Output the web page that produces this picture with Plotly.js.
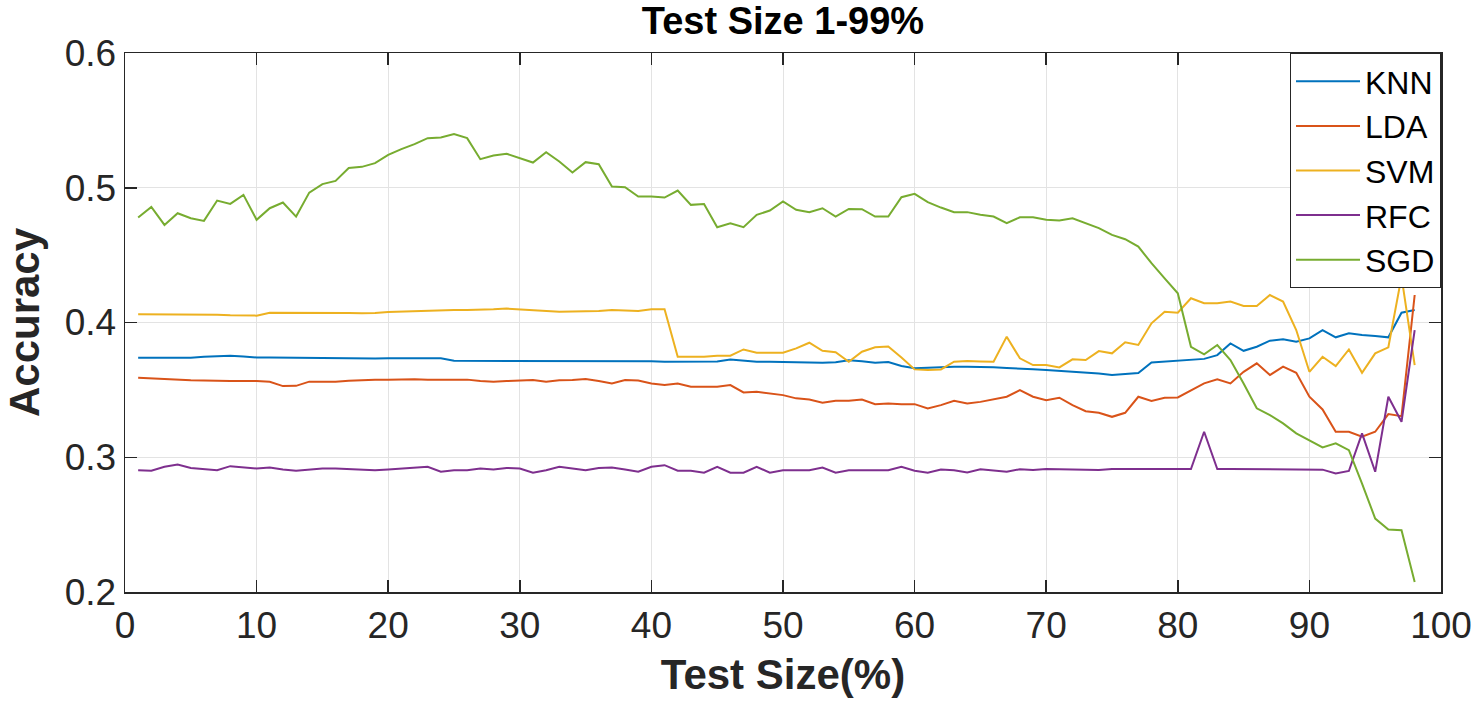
<!DOCTYPE html>
<html>
<head>
<meta charset="utf-8">
<script src="https://cdn.plot.ly/plotly-3.0.1.min.js"></script>
<style>html,body{margin:0;padding:0;background:#fff;}#chart{width:1479px;height:704px;}</style>
</head>
<body>
<div id="chart"></div>
<script>
const testSize = Array.from({length: 98}, (_, i) => i + 1);

const knn = [0.3739,0.3739,0.3739,0.3739,0.3739,0.3745,0.3751,0.3753,0.3748,0.3740,0.3740,0.3739,0.3739,0.3736,0.3736,0.3733,0.3731,0.3732,0.3733,0.3735,0.3735,0.3735,0.3735,0.3735,0.3716,0.3716,0.3715,0.3714,0.3713,0.3713,0.3712,0.3712,0.3711,0.3713,0.3713,0.3713,0.3713,0.3713,0.3713,0.3713,0.3708,0.3710,0.3710,0.3710,0.3711,0.3726,0.3716,0.3708,0.3708,0.3706,0.3704,0.3703,0.3701,0.3705,0.3720,0.3712,0.3701,0.3706,0.3677,0.3660,0.3665,0.3672,0.3672,0.3672,0.3672,0.3668,0.3662,0.3659,0.3653,0.3647,0.3641,0.3635,0.3629,0.3622,0.3610,0.3615,0.3625,0.3704,0.3710,0.3717,0.3727,0.3730,0.3758,0.3845,0.3790,0.3820,0.3865,0.3875,0.3857,0.3882,0.3944,0.3890,0.3920,0.3907,0.3900,0.3890,0.4073,0.4093];

const lda = [0.3590,0.3585,0.3578,0.3575,0.3572,0.3570,0.3566,0.3566,0.3566,0.3566,0.3560,0.3528,0.3530,0.3561,0.3561,0.3561,0.3568,0.3574,0.3576,0.3576,0.3578,0.3578,0.3576,0.3576,0.3576,0.3576,0.3566,0.3561,0.3565,0.3569,0.3574,0.3561,0.3571,0.3573,0.3581,0.3566,0.3548,0.3573,0.3569,0.3548,0.3536,0.3548,0.3523,0.3523,0.3523,0.3536,0.3481,0.3486,0.3474,0.3461,0.3437,0.3429,0.3404,0.3419,0.3419,0.3429,0.3394,0.3399,0.3394,0.3394,0.3362,0.3387,0.3419,0.3399,0.3411,0.3429,0.3449,0.3498,0.3449,0.3424,0.3442,0.3387,0.3342,0.3330,0.3300,0.3330,0.3449,0.3417,0.3442,0.3444,0.3498,0.3548,0.3578,0.3548,0.3634,0.3697,0.3610,0.3672,0.3627,0.3449,0.3355,0.3189,0.3189,0.3152,0.3189,0.3320,0.3305,0.4204];

const svm = [0.4061,0.4061,0.4060,0.4060,0.4060,0.4061,0.4057,0.4053,0.4052,0.4051,0.4073,0.4073,0.4073,0.4075,0.4073,0.4072,0.4071,0.4069,0.4070,0.4078,0.4082,0.4085,0.4090,0.4092,0.4093,0.4093,0.4093,0.4098,0.4103,0.4096,0.4090,0.4085,0.4080,0.4082,0.4082,0.4086,0.4093,0.4090,0.4085,0.4098,0.4098,0.3746,0.3746,0.3746,0.3754,0.3754,0.3800,0.3776,0.3776,0.3776,0.3808,0.3850,0.3790,0.3780,0.3709,0.3783,0.3816,0.3822,0.3741,0.3652,0.3647,0.3652,0.3709,0.3714,0.3711,0.3709,0.3895,0.3734,0.3684,0.3684,0.3667,0.3727,0.3722,0.3788,0.3771,0.3853,0.3833,0.3994,0.4080,0.4073,0.4180,0.4143,0.4143,0.4155,0.4123,0.4123,0.4204,0.4155,0.3944,0.3634,0.3746,0.3677,0.3800,0.3627,0.3771,0.3816,0.4340,0.3684];

const rfc = [0.2904,0.2900,0.2929,0.2946,0.2921,0.2911,0.2904,0.2934,0.2924,0.2916,0.2924,0.2909,0.2900,0.2909,0.2916,0.2916,0.2911,0.2904,0.2904,0.2909,0.2916,0.2924,0.2929,0.2892,0.2904,0.2904,0.2916,0.2909,0.2921,0.2916,0.2885,0.2904,0.2929,0.2916,0.2904,0.2921,0.2924,0.2909,0.2892,0.2929,0.2941,0.2900,0.2900,0.2885,0.2929,0.2885,0.2885,0.2929,0.2885,0.2904,0.2904,0.2904,0.2924,0.2885,0.2904,0.2904,0.2904,0.2904,0.2929,0.2900,0.2885,0.2909,0.2904,0.2887,0.2911,0.2904,0.2892,0.2911,0.2906,0.2913,0.2911,0.2913,0.2911,0.2906,0.2913,0.2913,0.2913,0.2913,0.2913,0.2913,0.2913,0.3189,0.2913,0.2913,0.2913,0.2913,0.2913,0.2913,0.2913,0.2913,0.2908,0.2880,0.2898,0.3177,0.2892,0.3449,0.3263,0.3944];

const sgd = [0.4779,0.4858,0.4724,0.4811,0.4774,0.4754,0.4905,0.4880,0.4947,0.4762,0.4848,0.4890,0.4786,0.4964,0.5027,0.5051,0.5146,0.5155,0.5183,0.5244,0.5287,0.5324,0.5368,0.5373,0.5398,0.5368,0.5212,0.5239,0.5252,0.5220,0.5187,0.5264,0.5195,0.5113,0.5190,0.5175,0.5009,0.5004,0.4935,0.4935,0.4927,0.4979,0.4873,0.4880,0.4707,0.4737,0.4707,0.4799,0.4831,0.4898,0.4836,0.4819,0.4848,0.4786,0.4843,0.4841,0.4786,0.4786,0.4930,0.4955,0.4893,0.4853,0.4819,0.4819,0.4799,0.4786,0.4737,0.4781,0.4781,0.4762,0.4757,0.4774,0.4737,0.4700,0.4650,0.4618,0.4563,0.4440,0.4328,0.4217,0.3820,0.3764,0.3833,0.3721,0.3548,0.3363,0.3313,0.3251,0.3177,0.3127,0.3073,0.3103,0.3053,0.2805,0.2545,0.2464,0.2458,0.2074];

const seriesNames = ['KNN','LDA','SVM','RFC','SGD'];
const seriesData = [knn, lda, svm, rfc, sgd];
const seriesColors = ['#0072BD','#D95319','#EDB120','#7E2F8E','#77AC30'];

const xTicks = [0,10,20,30,40,50,60,70,80,90,100];
const yTicks = [0.2,0.3,0.4,0.5,0.6];

const FONT = 'Arial, "Liberation Sans", Helvetica, sans-serif';

const traces = seriesNames.map((name, i) => ({
  type: 'scatter',
  mode: 'lines',
  name: name,
  x: testSize,
  y: seriesData[i],
  line: {color: seriesColors[i], width: 2}
}));

const axisCommon = {
  showline: true,
  linecolor: '#262626',
  linewidth: 1.5,
  mirror: 'ticks',
  ticks: 'inside',
  ticklen: 12,
  tickwidth: 1.5,
  tickcolor: '#262626',
  showgrid: true,
  gridcolor: '#e3e3e3',
  gridwidth: 1,
  zeroline: false,
  automargin: false,
  tickfont: {family: FONT, size: 37, color: '#262626'}
};

const layout = {
  width: 1479,
  height: 704,
  paper_bgcolor: '#ffffff',
  plot_bgcolor: '#ffffff',
  margin: {l: 125, r: 38, t: 53, b: 112},
  title: {
    text: '<b>Test Size 1-99%</b>',
    font: {family: FONT, size: 38, color: '#000000'},
    x: 0.5, xref: 'paper', xanchor: 'center',
    y: 1 - 21/704, yref: 'container', yanchor: 'middle'
  },
  xaxis: Object.assign({}, axisCommon, {
    range: [0, 100],
    tickvals: xTicks,
    ticktext: xTicks.map(String),
    title: {text: '<b>Test Size(%)</b>', font: {family: FONT, size: 42, color: '#262626'}, standoff: 14}
  }),
  yaxis: Object.assign({}, axisCommon, {
    range: [0.2, 0.6],
    tickvals: yTicks,
    ticktext: yTicks.map(v => v.toFixed(1)),
    title: {text: '<b>Accuracy</b>', font: {family: FONT, size: 42, color: '#262626'}, standoff: 12}
  }),
  legend: {
    x: 1, xanchor: 'right', xref: 'paper',
    y: 1, yanchor: 'top', yref: 'paper',
    bgcolor: '#ffffff',
    bordercolor: '#262626',
    borderwidth: 1,
    font: {family: FONT, size: 32, color: '#000000'},
    itemwidth: 64,
    tracegroupgap: 0
  },
  showlegend: true
};

Plotly.newPlot('chart', traces, layout, {displayModeBar: false, staticPlot: true});
</script>
</body>
</html>
